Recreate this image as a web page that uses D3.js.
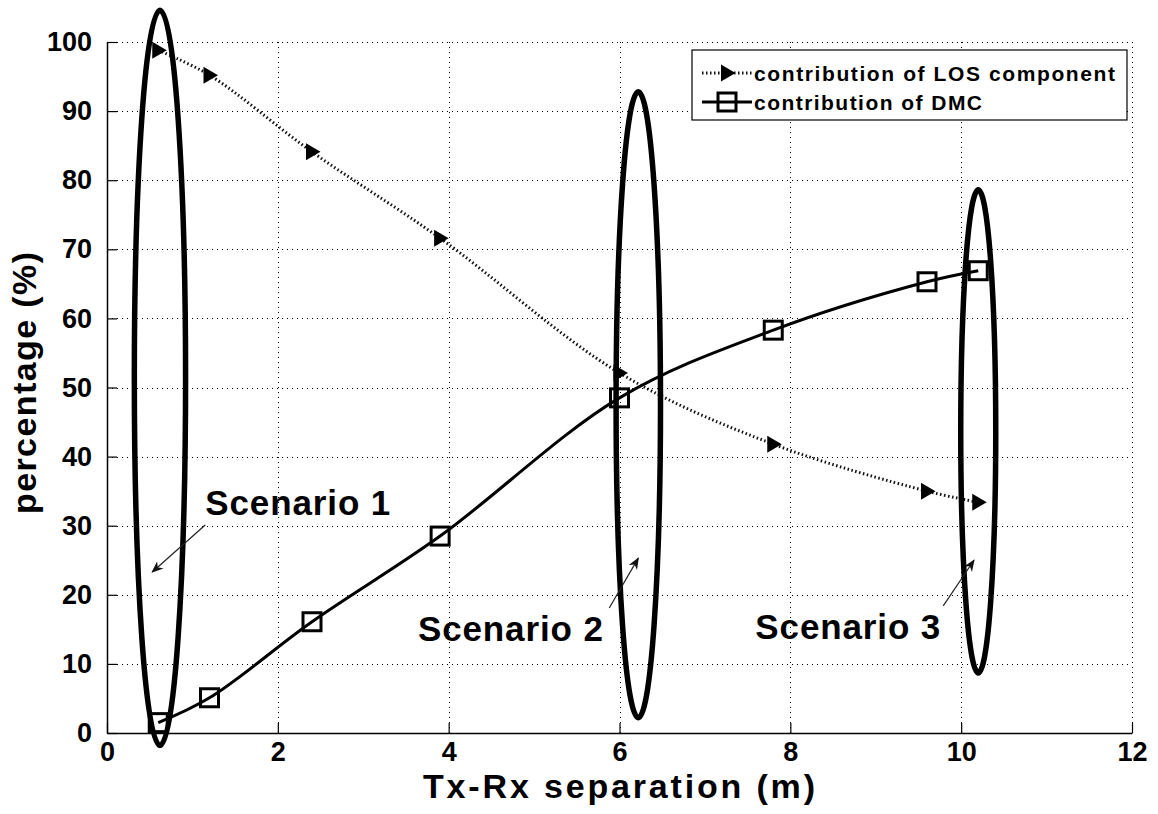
<!DOCTYPE html>
<html>
<head>
<meta charset="utf-8">
<script src="https://cdn.jsdelivr.net/npm/d3@7"></script>
<style>
  body { margin: 0; background: #fff; }
  svg text { font-family: "Liberation Sans", Arial, sans-serif; font-weight: bold; fill: #000; }
</style>
</head>
<body>
<svg width="1158" height="814"></svg>
<script>
// data
const separation = [0.6, 1.2, 2.4, 3.9, 6, 7.8, 9.6, 10.2];
const losContribution = [98.8, 95.2, 84.1, 71.6, 52.1, 41.8, 35.0, 33.4];
const dmcContribution = [1.5, 5.1, 16.1, 28.5, 48.5, 58.3, 65.3, 66.9];

const xTicks = [0, 2, 4, 6, 8, 10, 12];
const yTicks = [0, 10, 20, 30, 40, 50, 60, 70, 80, 90, 100];

const seriesNames = ["contribution of LOS component", "contribution of DMC"];

// scenario ellipses (data units) and annotation arrows
const scenarioNames = ["Scenario 1", "Scenario 2", "Scenario 3"];
const scenarioCx = [0.62, 6.22, 10.2];
const scenarioTop = [104.6, 92.8, 78.6];
const scenarioBottom = [-1.8, 2.2, 8.7];
const scenarioRx = [0.3, 0.26, 0.205];
const labelX = [1.15, 3.64, 7.59];
const labelY = [31.5, 13.3, 13.6];
const arrowFrom = [[1.15, 30.1], [5.88, 18.1], [9.79, 18.4]];
const arrowTo = [[0.53, 23.3], [6.22, 25.3], [10.15, 25.0]];

const margin = { top: 42, left: 107, right: 26, bottom: 81 },
    width = 1158 - margin.left - margin.right,
    height = 814 - margin.top - margin.bottom;

const svg = d3.select("svg");

svg.append("defs").append("marker")
    .attr("id", "arrowhead")
    .attr("viewBox", "0 0 10 10")
    .attr("refX", 9).attr("refY", 5)
    .attr("markerWidth", 12).attr("markerHeight", 12)
    .attr("markerUnits", "userSpaceOnUse")
    .attr("orient", "auto")
    .append("path")
    .attr("d", "M0,1 L10,5 L0,9 L3,5 Z")
    .attr("fill", "#111");

const g = svg.append("g")
    .attr("transform", "translate(" + margin.left + "," + margin.top + ")");

const x = d3.scaleLinear().domain([0, 12]).range([0, width]);
const y = d3.scaleLinear().domain([0, 100]).range([height, 0]);

// dotted grid
g.append("g").selectAll("line.vg")
    .data(xTicks.filter(d => d > 0))
    .enter().append("line")
    .attr("x1", d => Math.round(x(d)) + 0.5).attr("x2", d => Math.round(x(d)) + 0.5)
    .attr("y1", 0).attr("y2", height)
    .attr("stroke", "#000").attr("stroke-width", 1)
    .attr("stroke-dasharray", "1,4");

g.append("g").selectAll("line.hg")
    .data(yTicks.filter(d => d > 0))
    .enter().append("line")
    .attr("y1", d => Math.round(y(d)) + 0.5).attr("y2", d => Math.round(y(d)) + 0.5)
    .attr("x1", 0).attr("x2", width)
    .attr("stroke", "#000").attr("stroke-width", 1)
    .attr("stroke-dasharray", "1,4");

// axes
const xAxis = g.append("g")
    .attr("transform", "translate(0," + height + ")")
    .call(d3.axisBottom(x).tickValues(xTicks).tickSizeInner(-10).tickSizeOuter(0).tickPadding(9));
const yAxis = g.append("g")
    .call(d3.axisLeft(y).tickValues(yTicks).tickSizeInner(-10).tickSizeOuter(0).tickPadding(15));

[xAxis, yAxis].forEach(a => {
    a.select(".domain").attr("stroke", "#000").attr("stroke-width", 1.5);
    a.selectAll(".tick line").attr("stroke", "#000").attr("stroke-width", 1.2);
    a.selectAll(".tick text")
        .style("font-family", "'Liberation Sans', Arial, sans-serif")
        .style("font-weight", "bold")
        .style("font-size", "27px")
        .attr("fill", "#000");
});

// lines
const losData = separation.map((s, i) => [s, losContribution[i]]);
const dmcData = separation.map((s, i) => [s, dmcContribution[i]]);

const line = d3.line()
    .x(d => x(d[0]))
    .y(d => y(d[1]))
    .curve(d3.curveCatmullRom.alpha(0.5));

g.append("path")
    .datum(losData)
    .attr("d", line)
    .attr("fill", "none")
    .attr("stroke", "#111")
    .attr("stroke-width", 3)
    .attr("stroke-dasharray", "1.5,2.5");

g.append("path")
    .datum(dmcData)
    .attr("d", line)
    .attr("fill", "none")
    .attr("stroke", "#000")
    .attr("stroke-width", 3);

const triangle = "M-6,-8.5 L8.5,0 L-6,8.5 Z";

g.selectAll("path.tri")
    .data(losData)
    .enter().append("path")
    .attr("class", "tri")
    .attr("d", triangle)
    .attr("transform", d => "translate(" + x(d[0]) + "," + y(d[1]) + ")")
    .attr("fill", "#000");

g.selectAll("rect.sq")
    .data(dmcData)
    .enter().append("rect")
    .attr("class", "sq")
    .attr("x", d => x(d[0]) - 9).attr("y", d => y(d[1]) - 9)
    .attr("width", 18).attr("height", 18)
    .attr("fill", "none")
    .attr("stroke", "#000")
    .attr("stroke-width", 3);

// scenario ellipses
g.selectAll("ellipse")
    .data(scenarioNames)
    .enter().append("ellipse")
    .attr("cx", (d, i) => x(scenarioCx[i]))
    .attr("cy", (d, i) => (y(scenarioTop[i]) + y(scenarioBottom[i])) / 2)
    .attr("rx", (d, i) => x(scenarioRx[i]) - x(0))
    .attr("ry", (d, i) => (y(scenarioBottom[i]) - y(scenarioTop[i])) / 2)
    .attr("fill", "none")
    .attr("stroke", "#000")
    .attr("stroke-width", 5.5);

// arrows + labels
g.selectAll("line.arrow")
    .data(scenarioNames)
    .enter().append("line")
    .attr("x1", (d, i) => x(arrowFrom[i][0])).attr("y1", (d, i) => y(arrowFrom[i][1]))
    .attr("x2", (d, i) => x(arrowTo[i][0])).attr("y2", (d, i) => y(arrowTo[i][1]))
    .attr("stroke", "#222")
    .attr("stroke-width", 1.2)
    .attr("marker-end", "url(#arrowhead)");

g.selectAll("text.scen")
    .data(scenarioNames)
    .enter().append("text")
    .attr("x", (d, i) => x(labelX[i]))
    .attr("y", (d, i) => y(labelY[i]))
    .style("font-size", "35px")
    .attr("textLength", 185)
    .attr("lengthAdjust", "spacing")
    .text(d => d);

// axis titles
svg.append("text")
    .attr("x", 619)
    .attr("y", 798)
    .attr("text-anchor", "middle")
    .style("font-size", "34px")
    .attr("textLength", 392)
    .attr("lengthAdjust", "spacing")
    .text("Tx-Rx separation (m)");

svg.append("text")
    .attr("transform", "translate(36,383) rotate(-90)")
    .attr("text-anchor", "middle")
    .style("font-size", "34px")
    .attr("textLength", 262)
    .attr("lengthAdjust", "spacing")
    .text("percentage (%)");

// legend
const legend = svg.append("g").attr("transform", "translate(692,50)");
legend.append("rect")
    .attr("width", 435).attr("height", 70)
    .attr("fill", "#fff").attr("stroke", "#000").attr("stroke-width", 1.2);

const rowY = [23, 52];
const rowWidth = [361, 228];
seriesNames.forEach((name, i) => {
    const row = legend.append("g").attr("transform", "translate(0," + rowY[i] + ")");
    row.append("line")
        .attr("x1", 10).attr("x2", 60)
        .attr("stroke", i === 0 ? "#111" : "#000")
        .attr("stroke-width", 3)
        .attr("stroke-dasharray", i === 0 ? "1.5,2.5" : null);
    if (i === 0) {
        row.append("path").attr("d", triangle)
            .attr("transform", "translate(35,0)").attr("fill", "#000");
    } else {
        row.append("rect")
            .attr("x", 26).attr("y", -9).attr("width", 18).attr("height", 18)
            .attr("fill", "none").attr("stroke", "#000").attr("stroke-width", 3);
    }
    row.append("text")
        .attr("x", 62).attr("y", 0).attr("dy", "0.36em")
        .style("font-size", "21px")
        .attr("textLength", rowWidth[i])
        .attr("lengthAdjust", "spacing")
        .text(name);
});
</script>
</body>
</html>
